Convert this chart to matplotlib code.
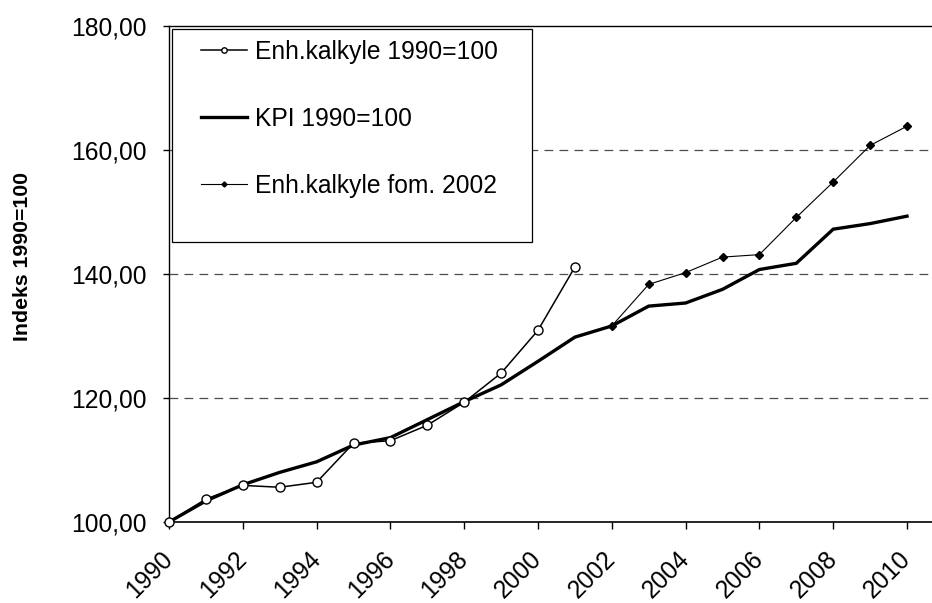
"""
Enhetskalkyle vs KPI, indeks 1990=100.
"""

import matplotlib
matplotlib.use("Agg")
import matplotlib.pyplot as plt
from matplotlib.patches import Rectangle

# data
years_enh = list(range(1990, 2002))
enh_1990 = [100.0, 103.7, 105.9, 105.6, 106.4, 112.7, 113.1, 115.6, 119.3, 124.0, 130.9, 141.1]

years_kpi = list(range(1990, 2011))
kpi_1990 = [100.0, 103.4, 106.0, 108.0, 109.7, 112.4, 113.6, 116.5, 119.4, 122.1, 125.9,
            129.8, 131.6, 134.8, 135.3, 137.5, 140.7, 141.7, 147.2, 148.1, 149.3]

years_fom = list(range(2002, 2011))
enh_fom2002 = [131.6, 138.3, 140.2, 142.7, 143.1, 149.1, 154.8, 160.7, 163.8]

labels = ["Enh.kalkyle 1990=100", "KPI 1990=100", "Enh.kalkyle fom. 2002"]
y_ticks = [100, 120, 140, 160, 180]
y_ticklabels = ["100,00", "120,00", "140,00", "160,00", "180,00"]
x_ticks = list(range(1990, 2011, 2))
y_title = "Indeks 1990=100"

plt.rcParams["font.family"] = ["Liberation Sans", "DejaVu Sans"]
FS = 17.7
W, H = 932, 603

fig = plt.figure(figsize=(W / 100, H / 100), dpi=100, facecolor="white")
ax = fig.add_axes([169 / W, 1 - 522 / H, (W - 169) / W, (522 - 25.7) / H])

l1, = ax.plot(years_enh, enh_1990, color="black", lw=1.1, marker="o", ms=6.5,
              mfc="white", mec="black", mew=1.0, clip_on=False, zorder=4)
l2, = ax.plot(years_kpi, kpi_1990, color="black", lw=2.4, zorder=3,
              solid_joinstyle="miter")
l3, = ax.plot(years_fom, enh_fom2002, color="black", lw=0.8, marker="D", ms=4.3,
              mfc="black", mec="black", clip_on=False, zorder=4)

ax.set_xlim(1990, 1990 + (W - 169) / 36.9)
ax.set_ylim(100, 180)

ax.set_yticks(y_ticks)
ax.set_yticklabels(y_ticklabels)
ax.set_xticks(x_ticks)
ax.set_xticklabels([str(y) for y in x_ticks], rotation=45, ha="right",
                   va="center", rotation_mode="anchor")

ax.tick_params(axis="y", direction="out", length=4.3, width=1, pad=12, labelsize=FS)
ax.tick_params(axis="x", direction="out", length=5, width=1, pad=19, labelsize=FS)

for gy in [120, 140, 160]:
    ax.axhline(gy, color="#4d4d4d", lw=0.9, ls=(0, (7, 5)), zorder=1)

ax.spines["right"].set_visible(False)
ax.spines["top"].set_linewidth(1.0)
ax.spines["left"].set_linewidth(1.0)
ax.spines["bottom"].set_linewidth(1.2)

fig.text(23 / W, 1 - 256 / H, y_title, rotation=90, ha="center", va="center",
         fontsize=15.3, fontweight="bold")

# legend box (white, covers the gridline)
fig.patches.append(Rectangle((171.7 / W, 1 - 241.7 / H), 360.3 / W, 212.4 / H,
                             transform=fig.transFigure, facecolor="white",
                             edgecolor="black", lw=0.9, zorder=2))
fig.legend([l1, l2, l3], labels, loc="upper left", frameon=False,
           bbox_to_anchor=(200.7 / W, 1 - 40 / H), bbox_transform=fig.transFigure,
           borderpad=0, borderaxespad=0, handlelength=1.87, handletextpad=0.35,
           labelspacing=1.74, markerscale=0.6, fontsize=FS)

plt.savefig("out.png", dpi=100, facecolor="white")
plt.close()
